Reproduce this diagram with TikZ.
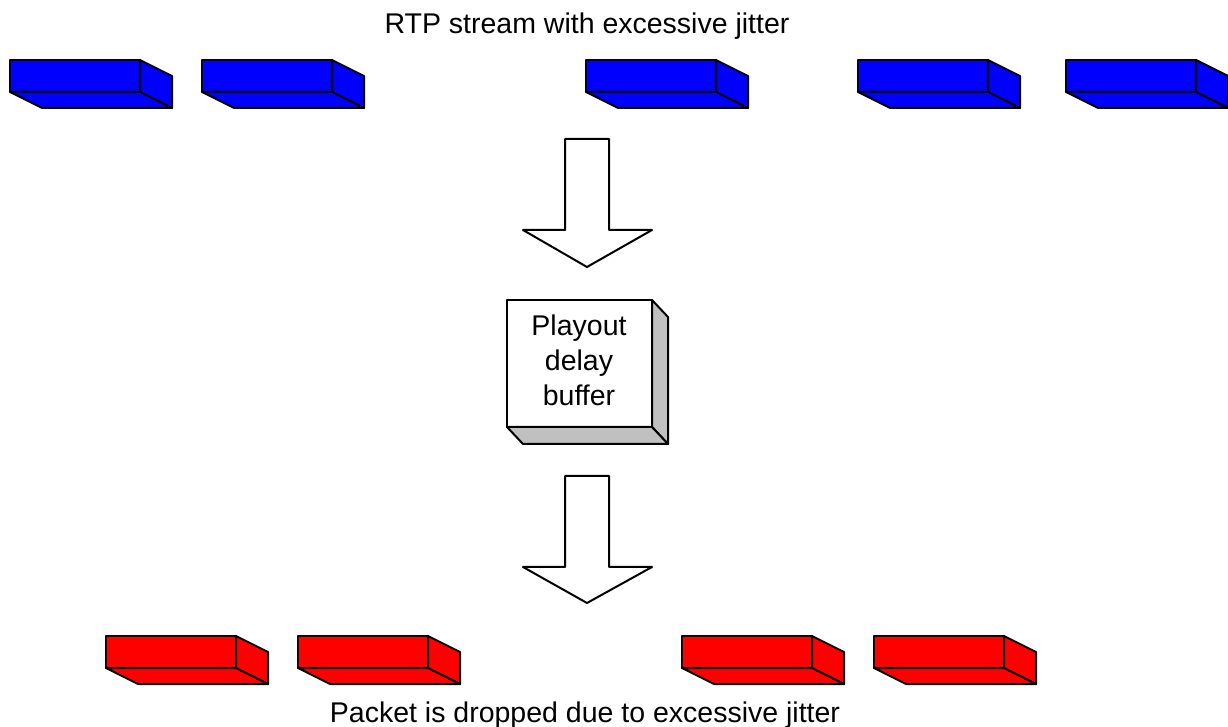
\documentclass[tikz,border=0pt]{standalone}
\usepackage{fontspec}
\setmainfont{Liberation Sans}
\definecolor{pktblue}{RGB}{0,0,255}
\definecolor{pktred}{RGB}{255,0,0}
\definecolor{bufgray}{RGB}{192,192,192}
\tikzset{
  face/.style={draw=black, line width=1pt, line join=round},
  fatarrow/.style={draw=black, fill=white, line width=1pt, line join=round},
  lbl/.style={inner sep=0pt, font=\fontsize{14.25}{17.5}\selectfont}
}
% one packet: left x, top y, colour
\newcommand{\pkt}[3]{%
  \filldraw[face, fill=#3] (#1,#2) rectangle ++(130,32);
  \filldraw[face, fill=#3] (#1+130,#2) -- ++(32,16) -- ++(0,32) -- ++(-32,-16) -- cycle;
  \filldraw[face, fill=#3] (#1,#2+32) -- ++(130,0) -- ++(32,16) -- ++(-130,0) -- cycle;
}
\begin{document}
\begin{tikzpicture}[x=0.5pt,y=-0.5pt]
\useasboundingbox (0,0) rectangle (1228,727);
\node[lbl, anchor=base] (title) at (587,34) {RTP stream with excessive jitter};
\pkt{10}{60}{pktblue}
\pkt{202}{60}{pktblue}
\pkt{586}{60}{pktblue}
\pkt{858}{60}{pktblue}
\pkt{1066}{60}{pktblue}
\draw[fatarrow] (565,139) -- (609,139) -- (609,230) -- (652,230) -- (587,267) -- (523,230) -- (565,230) -- cycle;
\filldraw[face, fill=white] (507,300) rectangle (652,427);
\filldraw[face, fill=bufgray] (652,300) -- (668,317) -- (668,444) -- (652,427) -- cycle;
\filldraw[face, fill=bufgray] (507,427) -- (652,427) -- (668,444) -- (523,444) -- cycle;
\node[lbl, align=center] (buffer) at (579,360) {Playout\\delay\\buffer};
\draw[fatarrow] (565,476) -- (609,476) -- (609,567) -- (652,567) -- (587,603) -- (523,567) -- (565,567) -- cycle;
\pkt{106}{636}{pktred}
\pkt{298}{636}{pktred}
\pkt{682}{636}{pktred}
\pkt{874}{636}{pktred}
\node[lbl, anchor=base] (caption) at (585,722) {Packet is dropped due to excessive jitter};
\end{tikzpicture}
\end{document}
